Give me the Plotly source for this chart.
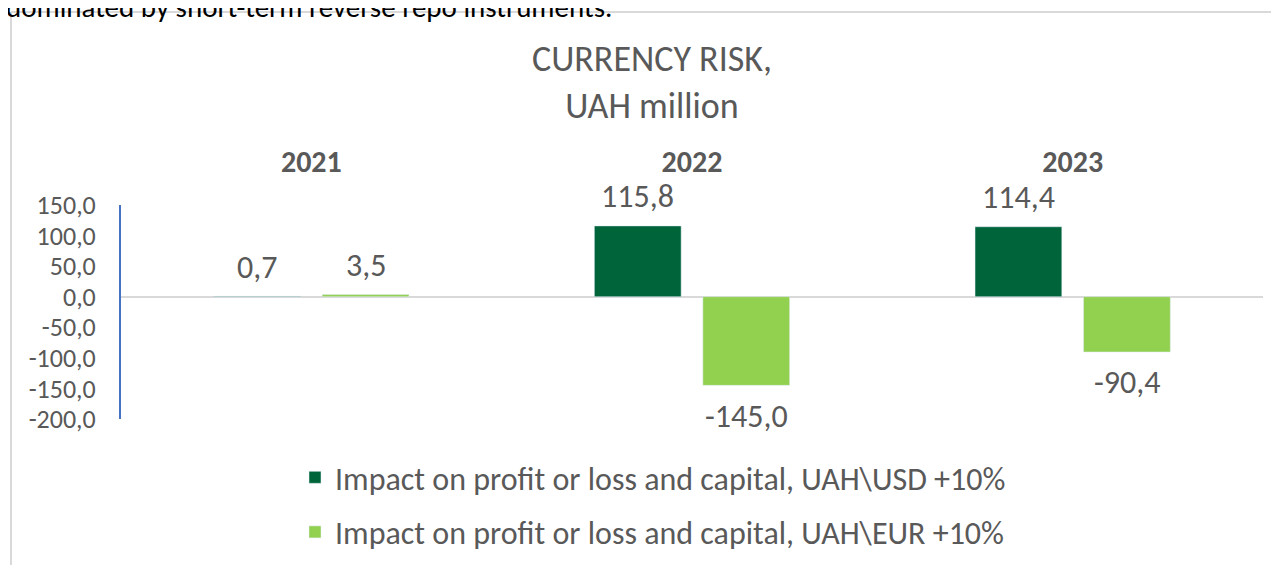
import plotly.graph_objects as go

years = ["2021", "2022", "2023"]
usd_impact = [0.7, 115.8, 114.4]
eur_impact = [3.5, -145.0, -90.4]
series_names = [
    "Impact on profit or loss and capital, UAH\\USD +10%",
    "Impact on profit or loss and capital, UAH\\EUR +10%",
]
y_ticks = [150, 100, 50, 0, -50, -100, -150, -200]

FONT = "Carlito, Lato, sans-serif"
GRAY = "#595959"
DARK = "#00643A"
LIGHT = "#92D050"

OFF = 8  # default page body margin
W, H = 1279 - OFF, 565 - OFF
# plot area in page pixels: x 121..1263, y 205..419
L, T = 121 - OFF, 205 - OFF
R, B = W - (1263 - OFF), H - (419 - OFF)
pw, ph = W - L - R, H - T - B


def px_x(p):
    return (p - OFF - L) / pw


def px_y(p):
    return (H - B - (p - OFF)) / ph


def fmt(v):
    return f"{v:.1f}".replace(".", ",")


fig = go.Figure()
fig.add_trace(go.Bar(x=years, y=usd_impact, name=series_names[0], marker_color=DARK,
                     legendgroup="a", hoverinfo="skip"))
fig.add_trace(go.Bar(x=years, y=eur_impact, name=series_names[1], marker_color=LIGHT,
                     legendgroup="b", hoverinfo="skip"))

bargap = 0.43
cat_w = pw / len(years)
offset = (1 - bargap) * cat_w / 4

annotations = []
for vals, sh in ((usd_impact, -offset), (eur_impact, offset)):
    for i, v in enumerate(vals):
        annotations.append(dict(
            x=i, y=v, xref="x", yref="y", text=fmt(v), showarrow=False,
            xshift=sh, yshift=29 if v >= 0 else -31, yanchor="middle",
            font=dict(family=FONT, size=32, color=GRAY),
        ))

annotations.append(dict(
    x=px_x(4), y=px_y(27), xref="paper", yref="paper", xanchor="left", yanchor="bottom",
    text="dominated by short-term reverse repo instruments.", showarrow=False,
    font=dict(family=FONT, size=29, color="#000000"),
))

shapes = [
    dict(type="line", xref="paper", yref="paper", x0=px_x(11), x1=px_x(11),
         y0=px_y(12), y1=px_y(620), line=dict(color="#D9D9D9", width=2)),
    dict(type="line", xref="paper", yref="paper", x0=px_x(11), x1=px_x(1320),
         y0=px_y(12), y1=px_y(12), line=dict(color="#D9D9D9", width=2)),
]

fig.update_layout(
    width=W, height=H,
    margin=dict(l=L, r=R, t=T, b=B, autoexpand=False),
    paper_bgcolor="white", plot_bgcolor="white",
    barmode="group", bargap=bargap, bargroupgap=0.2,
    title=dict(text="CURRENCY RISK,<br>UAH million", x=(652 - OFF) / W, xref="container",
               xanchor="center", y=1 - 63 / H, yref="container", yanchor="top",
               font=dict(family=FONT, size=36, color=GRAY)),
    xaxis=dict(type="category", range=[-0.5, len(years) - 0.5], side="top",
               showgrid=False, zeroline=False, showline=False,
               ticks="", ticklabelstandoff=26, automargin=False,
               tickfont=dict(family=FONT, size=30, color=GRAY, weight="bold")),
    yaxis=dict(range=[-200, 150], tickvals=y_ticks, ticktext=[fmt(v) for v in y_ticks],
               showgrid=False, automargin=False, layer="above traces",
               zeroline=True, zerolinecolor="#D9D9D9", zerolinewidth=2,
               showline=True, linecolor="#4472C4", linewidth=2, ticks="",
               ticklabelstandoff=18,
               tickfont=dict(family=FONT, size=26, color=GRAY)),
    legend=dict(orientation="v", x=px_x(295), y=px_y(450), xanchor="left", yanchor="top",
                tracegroupgap=10, font=dict(family=FONT, size=32, color=GRAY),
                bgcolor="rgba(0,0,0,0)"),
    showlegend=True,
    annotations=annotations,
    shapes=shapes,
)

fig.write_html("out.html")
